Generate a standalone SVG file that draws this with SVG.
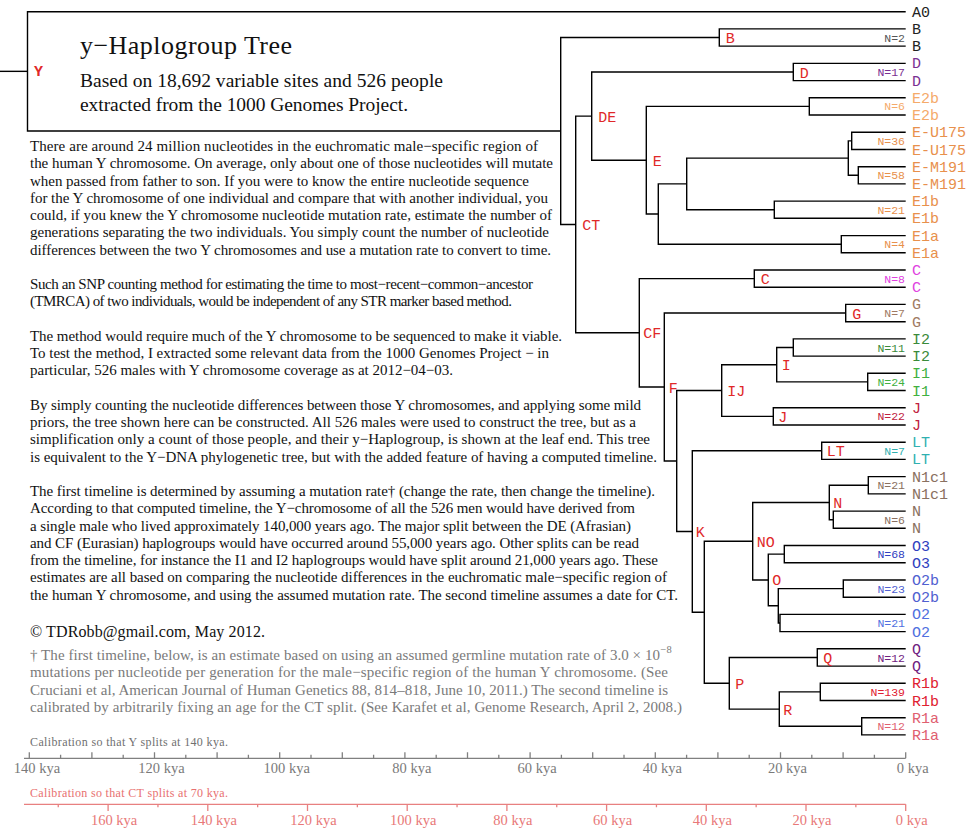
<svg xmlns="http://www.w3.org/2000/svg" width="968" height="832" viewBox="0 0 968 832">
<style>
.e{stroke:#000;stroke-width:1.4;fill:none}
.lf{font-family:"Liberation Mono","Courier New",monospace;font-size:15px}
.nl{font-family:"Liberation Mono","Courier New",monospace;font-size:15px;fill:#e02828}
.nc{font-family:"Liberation Mono","Courier New",monospace;font-size:11.5px;text-anchor:end}
.bt{font-family:"Liberation Serif","Times New Roman",serif;font-size:15px;fill:#111}
.fn{font-family:"Liberation Serif","Times New Roman",serif;font-size:15px;fill:#7a7a7a}
.ax1{stroke:#808080;stroke-width:1.3;fill:none}
.ax2{stroke:#e88080;stroke-width:1.3;fill:none}
.al1{font-family:"Liberation Serif","Times New Roman",serif;font-size:14.5px;fill:#7a7a7a;text-anchor:middle}
.al2{font-family:"Liberation Serif","Times New Roman",serif;font-size:14.5px;fill:#e87878;text-anchor:middle}
.k{fill:#222}.cD{fill:#7a2e92}.cE2{fill:#f5aa6a}.cE{fill:#e8904c}.cC{fill:#e040e0}.cG{fill:#a07a62}
.cI2{fill:#3a8a3a}.cI1{fill:#40b040}.cJ{fill:#c02040}.cLT{fill:#30b0b0}.cN{fill:#8a7060}
.cO3{fill:#3040c0}.cO2b{fill:#5060d0}.cO2{fill:#5070e0}.cQ{fill:#702080}.cR1b{fill:#e02030}.cR1a{fill:#e06070}
.nk{fill:#555}
</style>

<g id="connectors">
<path class="e" d="M0 71.35H27.5"/>
<path class="e" d="M905.7 11.7H27.5V131H560.7"/>
<path class="e" d="M719.3 37.5H560.7V224.45H575.7"/>
<path class="e" d="M905.7 28.9H719.3V46.1H905.7"/>
<path class="e" d="M591.7 116.1H575.7V332.8H639.3"/>
<path class="e" d="M793.3 72H591.7V160.2H646.3"/>
<path class="e" d="M905.7 63.4H793.3V80.6H905.7"/>
<path class="e" d="M809.3 106.4H646.3V214.05H658.3"/>
<path class="e" d="M905.7 97.8H809.3V115H905.7"/>
<path class="e" d="M686.7 183.9H658.3V244.2H841.3"/>
<path class="e" d="M848.3 158.1H686.7V209.7H774.3"/>
<path class="e" d="M851.7 140.85H848.3V175.3H858.3"/>
<path class="e" d="M905.7 132.2H851.7V149.5H905.7"/>
<path class="e" d="M905.7 166.7H858.3V183.9H905.7"/>
<path class="e" d="M905.7 201.1H774.3V218.3H905.7"/>
<path class="e" d="M905.7 235.6H841.3V252.8H905.7"/>
<path class="e" d="M754.3 278.6H639.3V387H664.3"/>
<path class="e" d="M905.7 270H754.3V287.2H905.7"/>
<path class="e" d="M845.7 313.05H664.3V461H676.7"/>
<path class="e" d="M905.7 304.4H845.7V321.7H905.7"/>
<path class="e" d="M721.7 390.55H676.7V531.5H692.3"/>
<path class="e" d="M776.7 364.7H721.7V416.4H773.3"/>
<path class="e" d="M793.3 347.5H776.7V381.9H867.7"/>
<path class="e" d="M905.7 338.9H793.3V356.1H905.7"/>
<path class="e" d="M905.7 373.3H867.7V390.5H905.7"/>
<path class="e" d="M905.7 407.8H773.3V425H905.7"/>
<path class="e" d="M821.7 450.8H692.3V612.25H704.3"/>
<path class="e" d="M905.7 442.2H821.7V459.4H905.7"/>
<path class="e" d="M752.7 541.2H704.3V683.3H729.3"/>
<path class="e" d="M829.3 502.5H752.7V579.95H768.3"/>
<path class="e" d="M868.3 485.25H829.3V519.7H833.3"/>
<path class="e" d="M905.7 476.6H868.3V493.9H905.7"/>
<path class="e" d="M905.7 511.1H833.3V528.3H905.7"/>
<path class="e" d="M784.3 554.1H768.3V605.8H778.3"/>
<path class="e" d="M905.7 545.5H784.3V562.7H905.7"/>
<path class="e" d="M843.3 588.6H778.3V623H780"/>
<path class="e" d="M905.7 580H843.3V597.2H905.7"/>
<path class="e" d="M905.7 614.4H780V631.6H905.7"/>
<path class="e" d="M817.3 657.45H729.3V709.1H779.3"/>
<path class="e" d="M905.7 648.8H817.3V666.1H905.7"/>
<path class="e" d="M820.3 691.9H779.3V726.3H861.7"/>
<path class="e" d="M905.7 683.3H820.3V700.5H905.7"/>
<path class="e" d="M905.7 717.7H861.7V734.9H905.7"/>
</g>

<g id="node-Y"><text class="nl" x="34" y="76" font-weight="bold">Y</text></g>
<g id="node-B"><text class="nl" x="725.8" y="43">B</text></g>
<g id="node-CT"><text class="nl" x="582.2" y="230">CT</text></g>
<g id="node-DE"><text class="nl" x="598.2" y="121.6">DE</text></g>
<g id="node-D"><text class="nl" x="799.8" y="77.5">D</text></g>
<g id="node-E"><text class="nl" x="652.8" y="165.7">E</text></g>
<g id="node-CF"><text class="nl" x="643.3" y="338.3">CF</text></g>
<g id="node-C"><text class="nl" x="760.8" y="284.1">C</text></g>
<g id="node-F"><text class="nl" x="668.8" y="392.5">F</text></g>
<g id="node-G"><text class="nl" x="852.2" y="318.5">G</text></g>
<g id="node-IJ"><text class="nl" x="727.2" y="396">IJ</text></g>
<g id="node-I"><text class="nl" x="781.7" y="370.2">I</text></g>
<g id="node-J"><text class="nl" x="778.3" y="421.9">J</text></g>
<g id="node-K"><text class="nl" x="695.8" y="537">K</text></g>
<g id="node-LT"><text class="nl" x="826.7" y="456.3">LT</text></g>
<g id="node-NO"><text class="nl" x="756.7" y="546.7">NO</text></g>
<g id="node-N"><text class="nl" x="833.3" y="508">N</text></g>
<g id="node-O"><text class="nl" x="772.3" y="585.4">O</text></g>
<g id="node-P"><text class="nl" x="735.3" y="688.8">P</text></g>
<g id="node-Q"><text class="nl" x="823.3" y="663">Q</text></g>
<g id="node-R"><text class="nl" x="783.3" y="714.6">R</text></g>

<g id="leaf-A0"><text class="lf k" x="912" y="16.7">A0</text></g>
<g id="leaf-B"><text class="lf k" x="912" y="33.9">B</text><text class="lf k" x="912" y="51.1">B</text><text class="nc nk" x="905" y="41.5">N=2</text></g>
<g id="leaf-D"><text class="lf cD" x="912" y="68.4">D</text><text class="lf cD" x="912" y="85.6">D</text><text class="nc cD" x="905" y="76">N=17</text></g>
<g id="leaf-E2b"><text class="lf cE2" x="912" y="102.8">E2b</text><text class="lf cE2" x="912" y="120">E2b</text><text class="nc cE2" x="905" y="110.4">N=6</text></g>
<g id="leaf-E-U175"><text class="lf cE" x="912" y="137.2">E-U175</text><text class="lf cE" x="912" y="154.5">E-U175</text><text class="nc cE" x="905" y="144.9">N=36</text></g>
<g id="leaf-E-M191"><text class="lf cE" x="912" y="171.7">E-M191</text><text class="lf cE" x="912" y="188.9">E-M191</text><text class="nc cE" x="905" y="179.3">N=58</text></g>
<g id="leaf-E1b"><text class="lf cE" x="912" y="206.1">E1b</text><text class="lf cE" x="912" y="223.3">E1b</text><text class="nc cE" x="905" y="213.7">N=21</text></g>
<g id="leaf-E1a"><text class="lf cE" x="912" y="240.6">E1a</text><text class="lf cE" x="912" y="257.8">E1a</text><text class="nc cE" x="905" y="248.2">N=4</text></g>
<g id="leaf-C"><text class="lf cC" x="912" y="275">C</text><text class="lf cC" x="912" y="292.2">C</text><text class="nc cC" x="905" y="282.6">N=8</text></g>
<g id="leaf-G"><text class="lf cG" x="912" y="309.4">G</text><text class="lf cG" x="912" y="326.7">G</text><text class="nc cG" x="905" y="317">N=7</text></g>
<g id="leaf-I2"><text class="lf cI2" x="912" y="343.9">I2</text><text class="lf cI2" x="912" y="361.1">I2</text><text class="nc cI2" x="905" y="351.5">N=11</text></g>
<g id="leaf-I1"><text class="lf cI1" x="912" y="378.3">I1</text><text class="lf cI1" x="912" y="395.5">I1</text><text class="nc cI1" x="905" y="385.9">N=24</text></g>
<g id="leaf-J"><text class="lf cJ" x="912" y="412.8">J</text><text class="lf cJ" x="912" y="430">J</text><text class="nc cJ" x="905" y="420.4">N=22</text></g>
<g id="leaf-LT"><text class="lf cLT" x="912" y="447.2">LT</text><text class="lf cLT" x="912" y="464.4">LT</text><text class="nc cLT" x="905" y="454.8">N=7</text></g>
<g id="leaf-N1c1"><text class="lf cN" x="912" y="481.6">N1c1</text><text class="lf cN" x="912" y="498.9">N1c1</text><text class="nc cN" x="905" y="489.3">N=21</text></g>
<g id="leaf-N"><text class="lf cN" x="912" y="516.1">N</text><text class="lf cN" x="912" y="533.3">N</text><text class="nc cN" x="905" y="523.7">N=6</text></g>
<g id="leaf-O3"><text class="lf cO3" x="912" y="550.5">O3</text><text class="lf cO3" x="912" y="567.7">O3</text><text class="nc cO3" x="905" y="558.1">N=68</text></g>
<g id="leaf-O2b"><text class="lf cO2b" x="912" y="585">O2b</text><text class="lf cO2b" x="912" y="602.2">O2b</text><text class="nc cO2b" x="905" y="592.6">N=23</text></g>
<g id="leaf-O2"><text class="lf cO2" x="912" y="619.4">O2</text><text class="lf cO2" x="912" y="636.6">O2</text><text class="nc cO2" x="905" y="627">N=21</text></g>
<g id="leaf-Q"><text class="lf cQ" x="912" y="653.8">Q</text><text class="lf cQ" x="912" y="671.1">Q</text><text class="nc cQ" x="905" y="661.5">N=12</text></g>
<g id="leaf-R1b"><text class="lf cR1b" x="912" y="688.3">R1b</text><text class="lf cR1b" x="912" y="705.5">R1b</text><text class="nc cR1b" x="905" y="695.9">N=139</text></g>
<g id="leaf-R1a"><text class="lf cR1a" x="912" y="722.7">R1a</text><text class="lf cR1a" x="912" y="739.9">R1a</text><text class="nc cR1a" x="905" y="730.3">N=12</text></g>

<g id="title">
<text x="80" y="53.5" font-family="Liberation Serif,Times New Roman,serif" font-size="26" fill="#111" textLength="212">y−Haplogroup Tree</text>
<text x="80" y="86.5" font-family="Liberation Serif,Times New Roman,serif" font-size="19.5" fill="#111" textLength="363">Based on 18,692 variable sites and 526 people</text>
<text x="80" y="110.5" font-family="Liberation Serif,Times New Roman,serif" font-size="19.5" fill="#111" textLength="328">extracted from the 1000 Genomes Project.</text>
</g>

<g id="body">
<text class="bt" x="30" y="151" textLength="508">There are around 24 million nucleotides in the euchromatic male−specific region of</text>
<text class="bt" x="30" y="168.25" textLength="523">the human Y chromosome. On average, only about one of those nucleotides will mutate</text>
<text class="bt" x="30" y="185.5" textLength="499">when passed from father to son. If you were to know the entire nucleotide sequence</text>
<text class="bt" x="30" y="202.75" textLength="518">for the Y chromosome of one individual and compare that with another individual, you</text>
<text class="bt" x="30" y="220" textLength="522">could, if you knew the Y chromosome nucleotide mutation rate, estimate the number of</text>
<text class="bt" x="30" y="237.25" textLength="519">generations separating the two individuals. You simply count the number of nucleotide</text>
<text class="bt" x="30" y="254.5" textLength="521">differences between the two Y chromosomes and use a mutation rate to convert to time.</text>
<text class="bt" x="30" y="289" textLength="503">Such an SNP counting method for estimating the time to most−recent−common−ancestor</text>
<text class="bt" x="30" y="306.25" textLength="482">(TMRCA) of two individuals, would be independent of any STR marker based method.</text>
<text class="bt" x="30" y="340.75" textLength="532">The method would require much of the Y chromosome to be sequenced to make it viable.</text>
<text class="bt" x="30" y="358" textLength="519">To test the method, I extracted some relevant data from the 1000 Genomes Project − in</text>
<text class="bt" x="30" y="375.25" textLength="423">particular, 526 males with Y chromosome coverage as at 2012−04−03.</text>
<text class="bt" x="30" y="409.75" textLength="611">By simply counting the nucleotide differences between those Y chromosomes, and applying some mild</text>
<text class="bt" x="30" y="427" textLength="606">priors, the tree shown here can be constructed. All 526 males were used to construct the tree, but as a</text>
<text class="bt" x="30" y="444.25" textLength="620">simplification only a count of those people, and their y−Haplogroup, is shown at the leaf end. This tree</text>
<text class="bt" x="30" y="461.5" textLength="627">is equivalent to the Y−DNA phylogenetic tree, but with the added feature of having a computed timeline.</text>
<text class="bt" x="30" y="496" textLength="625">The first timeline is determined by assuming a mutation rate† (change the rate, then change the timeline).</text>
<text class="bt" x="30" y="513.25" textLength="605">According to that computed timeline, the Y−chromosome of all the 526 men would have derived from</text>
<text class="bt" x="30" y="530.5" textLength="601">a single male who lived approximately 140,000 years ago. The major split between the DE (Afrasian)</text>
<text class="bt" x="30" y="547.75" textLength="609">and CF (Eurasian) haplogroups would have occurred around 55,000 years ago. Other splits can be read</text>
<text class="bt" x="30" y="565" textLength="628">from the timeline, for instance the I1 and I2 haplogroups would have split around 21,000 years ago. These</text>
<text class="bt" x="30" y="582.25" textLength="637">estimates are all based on comparing the nucleotide differences in the euchromatic male−specific region of</text>
<text class="bt" x="30" y="599.5" textLength="648">the human Y chromosome, and using the assumed mutation rate. The second timeline assumes a date for CT.</text>
<text x="30" y="637" font-family="Liberation Serif,Times New Roman,serif" font-size="16" fill="#111" textLength="235">© TDRobb@gmail.com, May 2012.</text>
<text class="fn" x="30" y="659.5" textLength="630">† The first timeline, below, is an estimate based on using an assumed germline mutation rate of 3.0 × 10</text>
<text x="660.5" y="653" font-family="Liberation Serif,Times New Roman,serif" font-size="10.5" fill="#7a7a7a">−8</text>
<text class="fn" x="30" y="677" textLength="638">mutations per nucleotide per generation for the male−specific region of the human Y chromosome. (See</text>
<text class="fn" x="30" y="694.5" textLength="638">Cruciani et al, American Journal of Human Genetics 88, 814–818, June 10, 2011.) The second timeline is</text>
<text class="fn" x="30" y="712" textLength="652">calibrated by arbitrarily fixing an age for the CT split. (See Karafet et al, Genome Research, April 2, 2008.)</text>
</g>

<g id="timeline-1">
<text x="30" y="746" font-family="Liberation Serif,Times New Roman,serif" font-size="12" fill="#707070" textLength="198">Calibration so that Y splits at 140 kya.</text>
<path class="ax1" d="M24 758.3H905.7M905.7 758.3V752.3M874.4 758.3V754.8M843.1 758.3V752.3M811.8 758.3V754.8M780.5 758.3V752.3M749.2 758.3V754.8M717.9 758.3V752.3M686.6 758.3V754.8M655.3 758.3V752.3M624 758.3V754.8M592.7 758.3V752.3M561.4 758.3V754.8M530.1 758.3V752.3M498.8 758.3V754.8M467.5 758.3V752.3M436.2 758.3V754.8M404.9 758.3V752.3M373.6 758.3V754.8M342.3 758.3V752.3M311 758.3V754.8M279.7 758.3V752.3M248.4 758.3V754.8M217.1 758.3V752.3M185.8 758.3V754.8M154.5 758.3V752.3M123.2 758.3V754.8M91.9 758.3V752.3M60.6 758.3V754.8M29.3 758.3V752.3"/>
<text class="al1" x="912.7" y="773">0 kya</text>
<text class="al1" x="787.5" y="773">20 kya</text>
<text class="al1" x="662.3" y="773">40 kya</text>
<text class="al1" x="537.1" y="773">60 kya</text>
<text class="al1" x="411.9" y="773">80 kya</text>
<text class="al1" x="286.7" y="773">100 kya</text>
<text class="al1" x="161.5" y="773">120 kya</text>
<text class="al1" x="37" y="773">140 kya</text>
</g>

<g id="timeline-2">
<text x="30" y="797" font-family="Liberation Serif,Times New Roman,serif" font-size="12" fill="#e87070" textLength="198">Calibration so that CT splits at 70 kya.</text>
<path class="ax2" d="M24 804.3H905.7M905.7 804.3V811M855.85 804.3V807.3M806 804.3V811M756.15 804.3V807.3M706.3 804.3V811M656.45 804.3V807.3M606.6 804.3V811M556.75 804.3V807.3M506.9 804.3V811M457.05 804.3V807.3M407.2 804.3V811M357.35 804.3V807.3M307.5 804.3V811M257.65 804.3V807.3M207.8 804.3V811M157.95 804.3V807.3M108.1 804.3V811M58.25 804.3V807.3"/>
<text class="al2" x="911.7" y="825">0 kya</text>
<text class="al2" x="812" y="825">20 kya</text>
<text class="al2" x="712.3" y="825">40 kya</text>
<text class="al2" x="612.6" y="825">60 kya</text>
<text class="al2" x="512.9" y="825">80 kya</text>
<text class="al2" x="413.2" y="825">100 kya</text>
<text class="al2" x="313.5" y="825">120 kya</text>
<text class="al2" x="213.8" y="825">140 kya</text>
<text class="al2" x="114.1" y="825">160 kya</text>
</g>
</svg>
